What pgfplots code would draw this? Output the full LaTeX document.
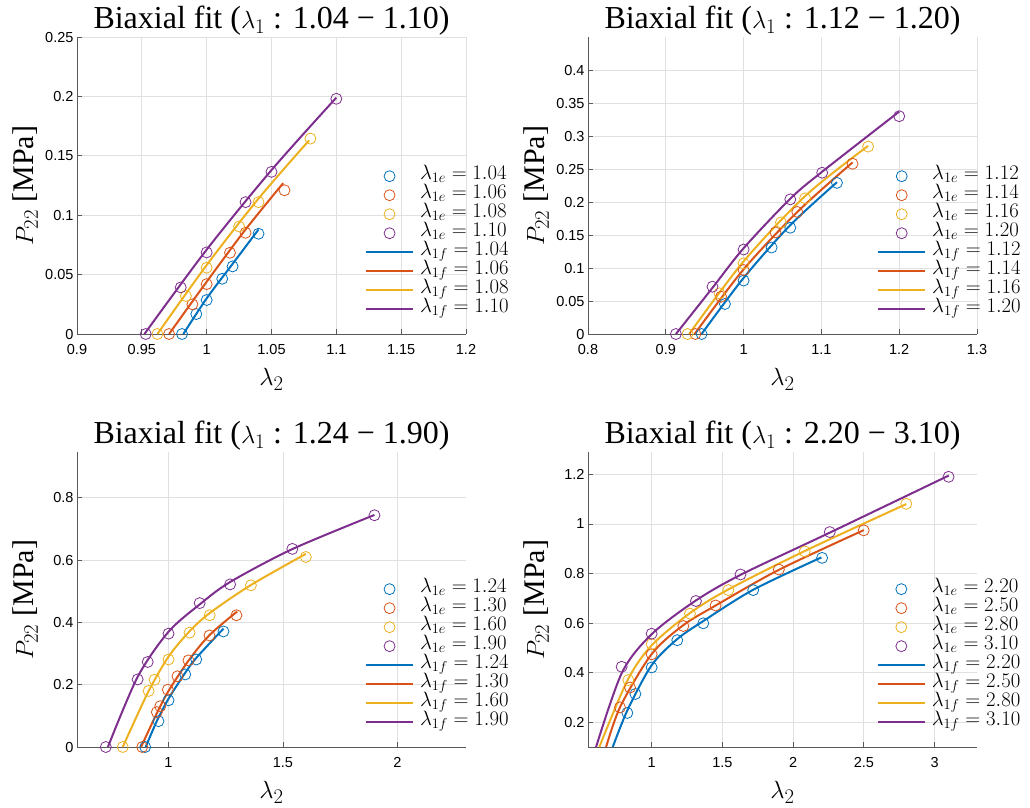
\documentclass[border=0pt]{standalone}
\usepackage{fontspec}
\setmainfont{Liberation Serif}
\setsansfont{Liberation Sans}
\usepackage{pgfplots}
\pgfplotsset{compat=1.18}

\definecolor{mblue}{rgb}{0,0.447,0.741}
\definecolor{morange}{rgb}{0.850,0.325,0.098}
\definecolor{myellow}{rgb}{0.929,0.694,0.125}
\definecolor{mpurple}{rgb}{0.494,0.184,0.556}

\pgfplotsset{
  biax/.style={
    scale only axis, width=389pt,
    axis x line*=bottom, axis y line*=left,
    tick align=inside, major tick length=5pt,
    grid=major, grid style={black!12, line width=0.7pt},
    axis line style={black!65, line width=1pt},
    tick style={black!65, line width=0.8pt},
    ticklabel style={font=\sffamily\fontsize{14.5}{14.5}\selectfont},
    xticklabel style={yshift=-7pt},
    /pgf/number format/assume math mode=true,
    /pgf/number format/fixed, /pgf/number format/precision=2,
    scaled ticks=false,
    title style={font=\fontsize{32}{32}\selectfont, yshift=-8pt},
    xlabel style={font=\fontsize{30}{30}\selectfont, at={(0.5,0)}, anchor=center, yshift=-45pt},
    ylabel style={font=\fontsize{30}{30}\selectfont, at={(0,0.5)}, anchor=center, yshift=52pt},
    ylabel={$P_{22}$ [MPa]}, xlabel={$\lambda_2$},
    legend style={draw=none, fill=none, anchor=north west,
      font=\fontsize{20}{20}\selectfont, inner sep=0pt,
      nodes={inner sep=0pt, text height=13pt, text depth=6pt},
      column sep=6pt, row sep=0pt},
    legend cell align=left,
    legend image code/.code={\draw[mark repeat=2,mark phase=2,##1] plot coordinates {(0pt,0pt) (23.5pt,0pt) (47pt,0pt)};},
  },
  em/.style={only marks, mark=o, mark size=5.5pt, mark options={line width=0.8pt}, color=#1},
  fit/.style={no marks, line width=2pt, smooth, color=#1},
}

\begin{document}
\begin{tikzpicture}
\useasboundingbox (0,0) rectangle (1030pt,-807pt);

% ---------- top left
\begin{axis}[biax, at={(77pt,-334pt)}, anchor=south west, height=297pt,
  xmin=0.9, xmax=1.2, ymin=0, ymax=0.25,
  xtick={0.9,0.95,1,1.05,1.1,1.15,1.2}, ytick={0,0.05,0.1,0.15,0.2,0.25},
  title={Biaxial fit ($\lambda_1$ : 1.04 − 1.10)},
  legend style={at={(0.740,0.564)}}]
\addplot[em=mblue] coordinates {(0.981,0) (0.992,0.0168) (1.000,0.0286) (1.012,0.0465) (1.020,0.0569) (1.040,0.0844)};
\addplot[em=morange] coordinates {(0.971,0) (0.989,0.025) (1.000,0.042) (1.018,0.0684) (1.030,0.0852) (1.060,0.121)};
\addplot[em=myellow] coordinates {(0.962,0) (0.984,0.032) (1.000,0.0558) (1.025,0.0905) (1.040,0.111) (1.080,0.1645)};
\addplot[em=mpurple] coordinates {(0.953,0) (0.980,0.0392) (1.000,0.0687) (1.030,0.111) (1.050,0.1365) (1.100,0.198)};
\addplot[fit=mblue] coordinates {(0.982,0) (1.000,0.030) (1.020,0.059) (1.040,0.088)};
\addplot[fit=morange] coordinates {(0.971,0) (1.000,0.044) (1.030,0.088) (1.059,0.127)};
\addplot[fit=myellow] coordinates {(0.962,0) (1.000,0.058) (1.040,0.114) (1.079,0.163)};
\addplot[fit=mpurple] coordinates {(0.952,0) (1.000,0.071) (1.050,0.138) (1.100,0.199)};
\legend{$\lambda_{1e} = 1.04$, $\lambda_{1e} = 1.06$, $\lambda_{1e} = 1.08$, $\lambda_{1e} = 1.10$,
        $\lambda_{1f} = 1.04$, $\lambda_{1f} = 1.06$, $\lambda_{1f} = 1.08$, $\lambda_{1f} = 1.10$}
\end{axis}

% ---------- top right
\begin{axis}[biax, at={(588pt,-334pt)}, anchor=south west, height=297pt,
  xmin=0.8, xmax=1.3, ymin=0, ymax=0.45,
  xtick={0.8,0.9,1,1.1,1.2,1.3}, ytick={0,0.05,0.1,0.15,0.2,0.25,0.3,0.35,0.4},
  title={Biaxial fit ($\lambda_1$ : 1.12 − 1.20)},
  legend style={at={(0.743,0.564)}}]
\addplot[em=mblue] coordinates {(0.946,0) (0.976,0.0455) (1.000,0.081) (1.036,0.131) (1.060,0.161) (1.120,0.229)};
\addplot[em=morange] coordinates {(0.938,0) (0.971,0.0566) (1.000,0.097) (1.041,0.154) (1.069,0.185) (1.140,0.258)};
\addplot[em=myellow] coordinates {(0.928,0) (0.969,0.0616) (1.000,0.107) (1.048,0.169) (1.079,0.2056) (1.160,0.284)};
\addplot[em=mpurple] coordinates {(0.913,0) (0.960,0.0717) (1.000,0.128) (1.060,0.204) (1.101,0.2444) (1.200,0.330)};
\addplot[fit=mblue] coordinates {(0.946,0) (1.000,0.085) (1.060,0.165) (1.120,0.230)};
\addplot[fit=morange] coordinates {(0.937,0) (1.000,0.098) (1.070,0.186) (1.140,0.260)};
\addplot[fit=myellow] coordinates {(0.930,0) (1.000,0.110) (1.080,0.210) (1.160,0.285)};
\addplot[fit=mpurple] coordinates {(0.913,0) (0.960,0.070) (1.000,0.130) (1.060,0.205) (1.100,0.245) (1.200,0.337)};
\legend{$\lambda_{1e} = 1.12$, $\lambda_{1e} = 1.14$, $\lambda_{1e} = 1.16$, $\lambda_{1e} = 1.20$,
        $\lambda_{1f} = 1.12$, $\lambda_{1f} = 1.14$, $\lambda_{1f} = 1.16$, $\lambda_{1f} = 1.20$}
\end{axis}

% ---------- bottom left
\begin{axis}[biax, at={(77pt,-747pt)}, anchor=south west, height=295pt,
  xmin=0.6, xmax=2.3, ymin=0, ymax=0.947,
  xtick={1,1.5,2}, ytick={0,0.2,0.4,0.6,0.8},
  title={Biaxial fit ($\lambda_1$ : 1.24 − 1.90)},
  legend style={at={(0.740,0.568)}}]
\addplot[em=mblue] coordinates {(0.898,0) (0.956,0.083) (1.000,0.150) (1.073,0.233) (1.121,0.281) (1.240,0.371)};
\addplot[em=morange] coordinates {(0.885,0) (0.949,0.112) (0.964,0.131) (0.997,0.184) (1.039,0.227) (1.087,0.278) (1.179,0.358) (1.297,0.423)};
\addplot[em=myellow] coordinates {(0.800,0) (0.913,0.180) (0.939,0.216) (1.000,0.281) (1.092,0.367) (1.180,0.423) (1.360,0.519) (1.600,0.610)};
\addplot[em=mpurple] coordinates {(0.726,0) (0.865,0.217) (0.909,0.273) (1.000,0.364) (1.136,0.462) (1.269,0.522) (1.541,0.636) (1.900,0.744)};
\addplot[fit=mblue] coordinates {(0.900,0) (0.950,0.085) (1.000,0.155) (1.070,0.235) (1.120,0.285) (1.240,0.380)};
\addplot[fit=morange] coordinates {(0.880,0) (0.950,0.110) (1.000,0.180) (1.090,0.280) (1.180,0.360) (1.300,0.435)};
\addplot[fit=myellow] coordinates {(0.800,0) (0.910,0.175) (1.000,0.290) (1.090,0.370) (1.180,0.430) (1.360,0.520) (1.600,0.620)};
\addplot[fit=mpurple] coordinates {(0.735,0) (0.865,0.225) (1.000,0.370) (1.140,0.460) (1.270,0.530) (1.540,0.635) (1.900,0.745)};
\legend{$\lambda_{1e} = 1.24$, $\lambda_{1e} = 1.30$, $\lambda_{1e} = 1.60$, $\lambda_{1e} = 1.90$,
        $\lambda_{1f} = 1.24$, $\lambda_{1f} = 1.30$, $\lambda_{1f} = 1.60$, $\lambda_{1f} = 1.90$}
\end{axis}

% ---------- bottom right
\begin{axis}[biax, at={(588pt,-747pt)}, anchor=south west, height=295pt,
  xmin=0.55, xmax=3.3, ymin=0.1, ymax=1.29,
  xtick={1,1.5,2,2.5,3}, ytick={0.2,0.4,0.6,0.8,1,1.2},
  title={Biaxial fit ($\lambda_1$ : 2.20 − 3.10)},
  legend style={at={(0.742,0.568)}}]
\addplot[em=mblue] coordinates {(0.828,0.2375) (0.885,0.314) (1.000,0.421) (1.181,0.531) (1.365,0.599) (1.718,0.733) (2.205,0.863)};
\addplot[em=morange] coordinates {(0.776,0.260) (0.847,0.340) (1.000,0.474) (1.224,0.588) (1.452,0.671) (1.899,0.816) (2.499,0.974)};
\addplot[em=myellow] coordinates {(0.835,0.370) (1.000,0.515) (1.271,0.638) (1.542,0.733) (2.082,0.889) (2.800,1.081)};
\addplot[em=mpurple] coordinates {(0.788,0.4236) (1.000,0.557) (1.313,0.689) (1.628,0.796) (2.259,0.967) (3.099,1.190)};
\addplot[fit=mblue] coordinates {(0.725,0.1) (0.830,0.250) (1.000,0.430) (1.180,0.535) (1.370,0.610) (1.720,0.735) (2.200,0.865)};
\addplot[fit=morange] coordinates {(0.678,0.1) (0.780,0.265) (1.000,0.475) (1.220,0.590) (1.450,0.670) (1.900,0.815) (2.500,0.975)};
\addplot[fit=myellow] coordinates {(0.630,0.1) (0.830,0.370) (1.000,0.510) (1.270,0.640) (1.540,0.735) (2.080,0.890) (2.800,1.080)};
\addplot[fit=mpurple] coordinates {(0.607,0.1) (0.790,0.400) (1.000,0.555) (1.310,0.690) (1.630,0.795) (2.260,0.965) (3.100,1.195)};
\legend{$\lambda_{1e} = 2.20$, $\lambda_{1e} = 2.50$, $\lambda_{1e} = 2.80$, $\lambda_{1e} = 3.10$,
        $\lambda_{1f} = 2.20$, $\lambda_{1f} = 2.50$, $\lambda_{1f} = 2.80$, $\lambda_{1f} = 3.10$}
\end{axis}
\end{tikzpicture}
\end{document}
